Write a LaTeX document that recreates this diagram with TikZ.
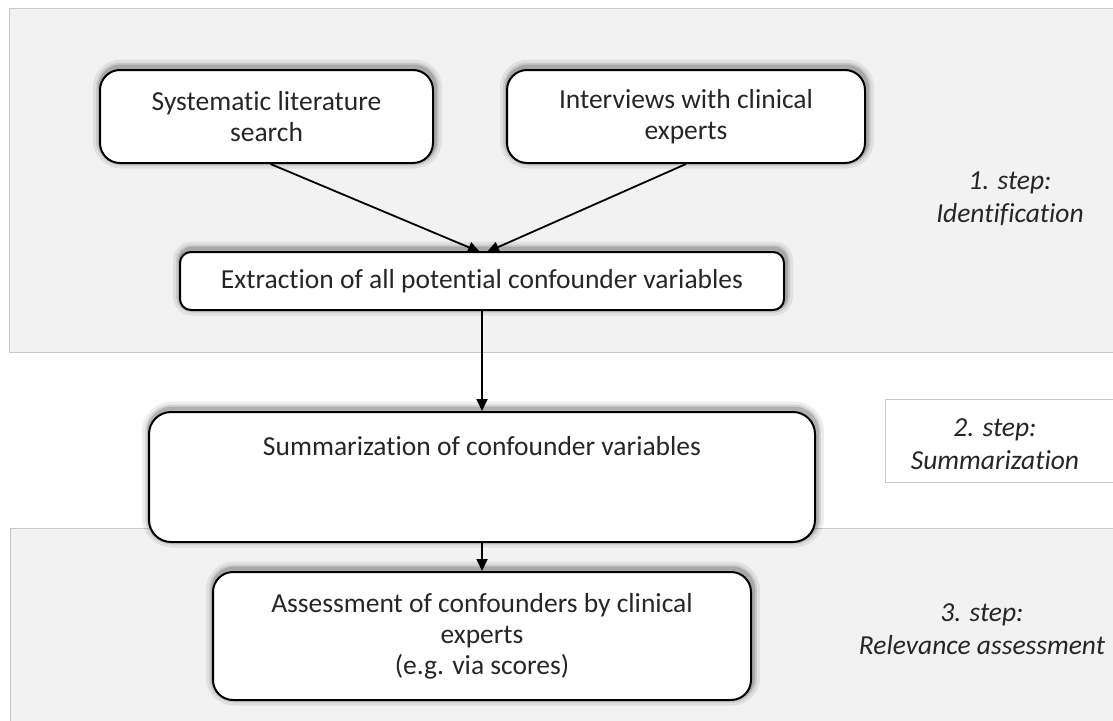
\documentclass[tikz,border=0pt]{standalone}
\usepackage{fontspec}
\setmainfont{Carlito}[Ligatures={NoCommon}]
\usetikzlibrary{arrows.meta}
\definecolor{bandfill}{HTML}{F2F2F2}
\definecolor{bandline}{HTML}{C8C8C8}
\definecolor{txt}{HTML}{262626}
\tikzset{
  box/.style={draw=black, line width=2pt, fill=white, rounded corners=20pt, align=center,
    text=txt, font=\fontsize{27.5}{31}\selectfont,
    preaction={draw=black, draw opacity=0.07, line width=16pt, fill=none, transform canvas={xshift=1pt,yshift=2.5pt}},
    preaction={draw=black, draw opacity=0.10, line width=10pt, fill=none, transform canvas={xshift=1pt,yshift=2.5pt}},
    preaction={draw=black, draw opacity=0.16, line width=6pt, fill=none, transform canvas={xshift=1pt,yshift=2.5pt}}},
  steplabel/.style={align=center, text=txt, font=\fontsize{27.5}{33}\selectfont\itshape},
  conn/.style={line width=1.8pt, -{Triangle[length=12pt,width=11pt]}}
}
\begin{document}
\begin{tikzpicture}[x=1pt,y=-1pt]
\useasboundingbox (0,0) rectangle (1113,720);
% bands
\fill[white] (0,0) rectangle (1113,720);
\filldraw[fill=bandfill, draw=bandline, line width=0.8pt] (1114,8) -- (9,8) -- (9,352) -- (1114,352);
\filldraw[fill=bandfill, draw=bandline, line width=0.8pt] (1114,528) -- (10,528) -- (10,721) -- (1114,721) -- cycle;
\draw[draw=bandline, line width=0.8pt, fill=white] (1114,399) -- (885,399) -- (885,482) -- (1114,482);
% boxes
\node[box, minimum width=333, minimum height=93] (b1) at (266.5,116.5) {Systematic literature\\search};
\node[box, minimum width=358, minimum height=93] (b2) at (686,116.5) {Interviews with clinical\\experts};
\node[box, rounded corners=11pt, minimum width=604, minimum height=58] (b3) at (482,281) {Extraction of all potential confounder variables};
\node[box, rounded corners=22pt, minimum width=666, minimum height=130] (b4) at (482,477) {Summarization of confounder variables\\\mbox{}\\\mbox{}};
\node[box, minimum width=538, minimum height=128] (b5) at (482,636) {Assessment of confounders by clinical\\experts\\(e.g. via scores)};
% step labels
\node[steplabel] (s1) at (1010,199) {1. step:\\Identification};
\node[steplabel] (s2) at (995,444) {2. step:\\Summarization};
\node[steplabel] (s3) at (982,629) {3. step:\\Relevance assessment};
% connectors
\coordinate (t1) at (480,252);
\coordinate (t2) at (487,252);
\draw[conn] (b1.south) ++(4,0) -- (t1);
\draw[conn] (b2.south) -- (t2);
\draw[conn] (b3.south) -- (b4.north);
\draw[conn] (b4.south) -- (b5.north);
\end{tikzpicture}
\end{document}
